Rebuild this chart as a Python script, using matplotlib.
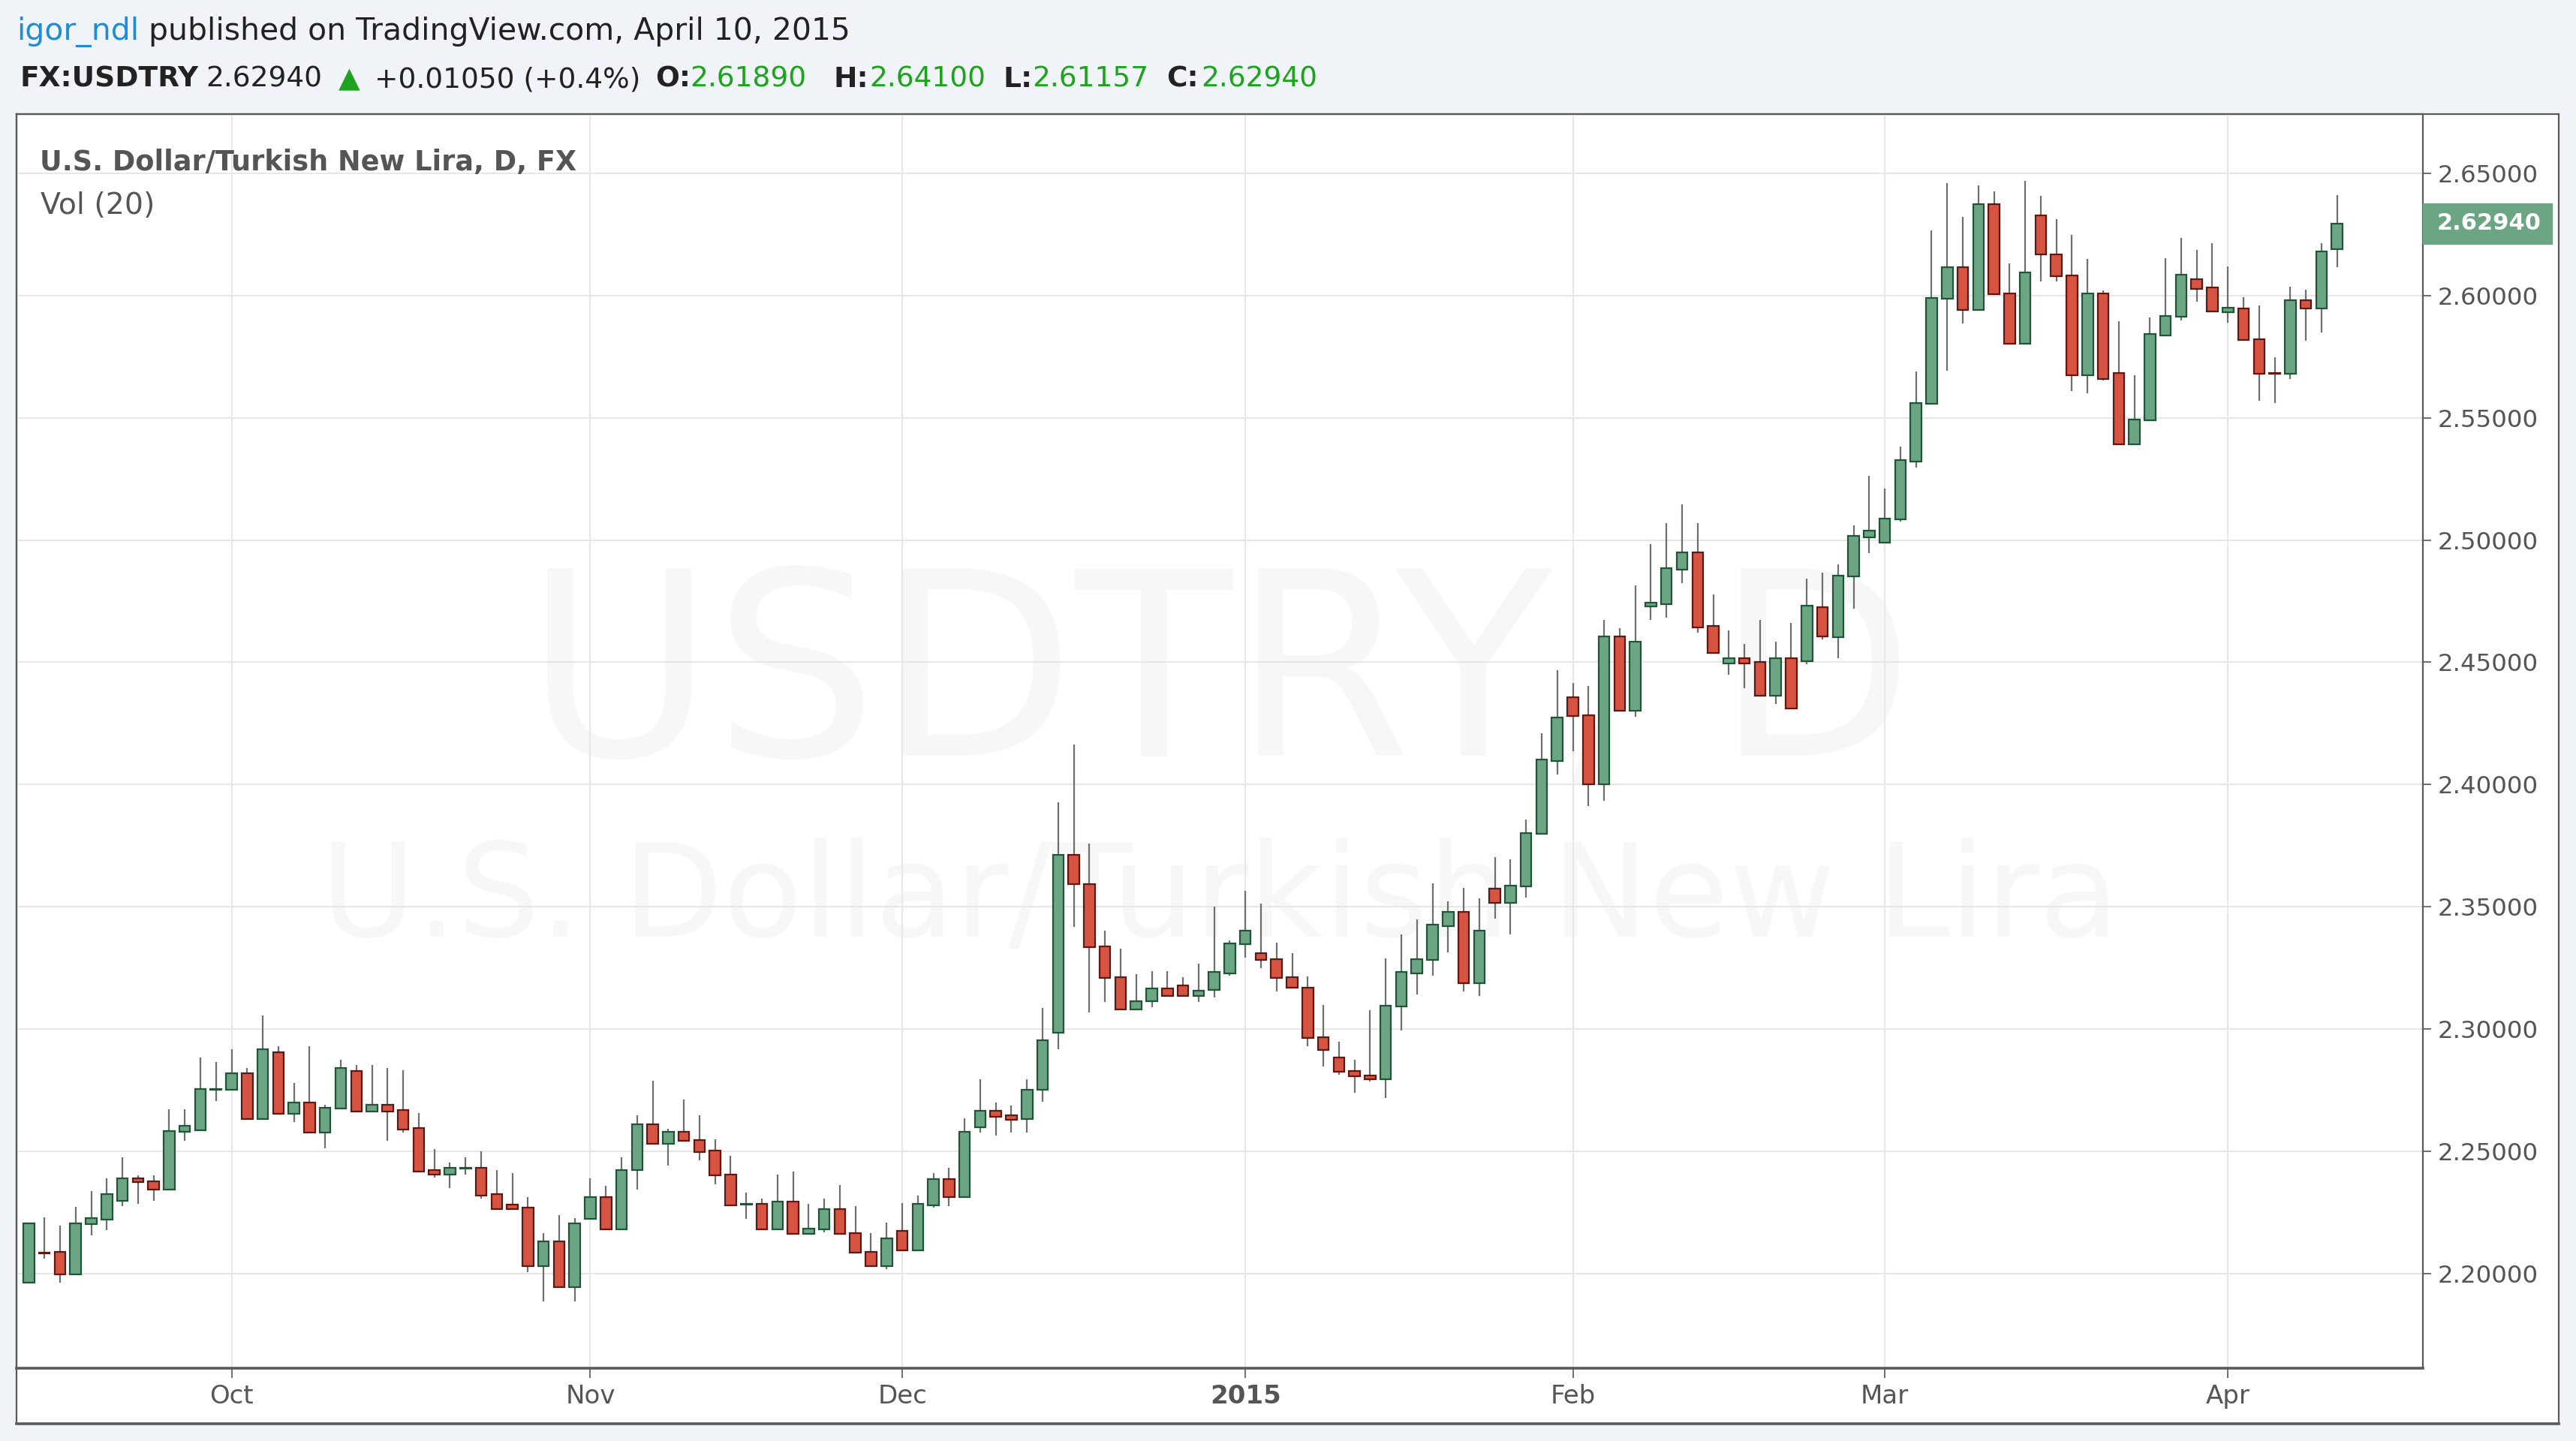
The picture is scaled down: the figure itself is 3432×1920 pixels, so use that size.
import matplotlib
matplotlib.use('Agg')
import matplotlib.pyplot as plt
from matplotlib.patches import Rectangle
import numpy as np

plt.rcParams['font.family'] = ['DejaVu Sans']

# ---------------- data (USD/TRY daily, 12 Sep 2014 - 10 Apr 2015) ----------------
opens = [2.1964, 2.2087, 2.2089, 2.1997, 2.2203, 2.2221, 2.2298, 2.2389, 2.2378, 2.2342,
         2.2579, 2.2587, 2.2751, 2.2751, 2.2819, 2.2633, 2.2905, 2.2653, 2.2701, 2.2578,
         2.2676, 2.2830, 2.2664, 2.2689, 2.2669, 2.2595, 2.2423, 2.2406, 2.2428, 2.2432,
         2.2324, 2.2283, 2.2270, 2.2029, 2.2132, 2.1943, 2.2223, 2.2314, 2.2180, 2.2422,
         2.2611, 2.2531, 2.2580, 2.2547, 2.2502, 2.2405, 2.2281, 2.2284, 2.2182, 2.2295,
         2.2161, 2.2182, 2.2264, 2.2165, 2.2089, 2.2031, 2.2175, 2.2096, 2.2280, 2.2387,
         2.2313, 2.2599, 2.2666, 2.2647, 2.2632, 2.2751, 2.2985, 2.3712, 2.3593, 2.3337,
         2.3211, 2.3080, 2.3114, 2.3166, 2.3178, 2.3136, 2.3159, 2.3229, 2.3348, 2.3309,
         2.3287, 2.3213, 2.3170, 2.2968, 2.2883, 2.2829, 2.2809, 2.2796, 2.3091, 2.3229,
         2.3282, 2.3421, 2.3480, 2.3188, 2.3573, 2.3517, 2.3583, 2.3797, 2.4097, 2.4358,
         2.4284, 2.4000, 2.4606, 2.4301, 2.4729, 2.4739, 2.4879, 2.4948, 2.4648, 2.4495,
         2.4518, 2.4500, 2.4364, 2.4518, 2.4503, 2.4726, 2.4603, 2.4852, 2.5011, 2.4990,
         2.5085, 2.5322, 2.5558, 2.5986, 2.6116, 2.5941, 2.6373, 2.6007, 2.5804, 2.6329,
         2.6168, 2.6082, 2.5675, 2.6007, 2.5682, 2.5392, 2.5489, 2.5837, 2.5912, 2.6066,
         2.6033, 2.5932, 2.5947, 2.5820, 2.5683, 2.5680, 2.5980, 2.5946, 2.61890]
highs = [2.2206, 2.2229, 2.2197, 2.2273, 2.2337, 2.2391, 2.2476, 2.2401, 2.2401, 2.2671,
         2.2671, 2.2885, 2.2864, 2.2918, 2.2842, 2.3057, 2.2929, 2.2779, 2.2929, 2.2691,
         2.2874, 2.2854, 2.2854, 2.2842, 2.2831, 2.2658, 2.2509, 2.2455, 2.2476, 2.2499,
         2.2424, 2.2411, 2.2314, 2.2164, 2.2240, 2.2228, 2.2391, 2.2358, 2.2476, 2.2646,
         2.2790, 2.2591, 2.2711, 2.2646, 2.2549, 2.2482, 2.2330, 2.2307, 2.2406, 2.2417,
         2.2286, 2.2307, 2.2362, 2.2276, 2.2167, 2.2210, 2.2289, 2.2320, 2.2412, 2.2432,
         2.2635, 2.2795, 2.2699, 2.2688, 2.2795, 2.3085, 2.3926, 2.4163, 2.3757, 2.3404,
         2.3329, 2.3223, 2.3236, 2.3236, 2.3211, 2.3266, 2.3500, 2.3363, 2.3566, 2.3512,
         2.3353, 2.3310, 2.3215, 2.3099, 2.2949, 2.2875, 2.3078, 2.3290, 2.3386, 2.3449,
         2.3597, 2.3522, 2.3576, 2.3534, 2.3703, 2.3693, 2.3856, 2.4211, 2.4469, 2.4415,
         2.4404, 2.4672, 2.4640, 2.4813, 2.4984, 2.5069, 2.5145, 2.5069, 2.4779, 2.4629,
         2.4575, 2.4672, 2.4585, 2.4661, 2.4843, 2.4867, 2.4900, 2.5059, 2.5264, 2.5210,
         2.5381, 2.5689, 2.6267, 2.6459, 2.6322, 2.6449, 2.6427, 2.6130, 2.6470, 2.6407,
         2.6311, 2.6247, 2.6151, 2.6021, 2.5896, 2.5675, 2.5909, 2.6152, 2.6237, 2.6185,
         2.6215, 2.6120, 2.5993, 2.5959, 2.5748, 2.6036, 2.6025, 2.6215, 2.64100]
lows = [2.1964, 2.2060, 2.1964, 2.1997, 2.2156, 2.2178, 2.2275, 2.2286, 2.2296, 2.2342,
        2.2543, 2.2587, 2.2705, 2.2751, 2.2633, 2.2633, 2.2653, 2.2619, 2.2578, 2.2511,
        2.2676, 2.2664, 2.2664, 2.2543, 2.2576, 2.2417, 2.2394, 2.2350, 2.2404, 2.2306,
        2.2265, 2.2265, 2.2005, 2.1887, 2.1943, 2.1887, 2.2223, 2.2180, 2.2180, 2.2344,
        2.2531, 2.2443, 2.2542, 2.2464, 2.2365, 2.2280, 2.2224, 2.2182, 2.2182, 2.2161,
        2.2161, 2.2170, 2.2161, 2.2086, 2.2031, 2.2018, 2.2096, 2.2096, 2.2269, 2.2276,
        2.2313, 2.2576, 2.2565, 2.2576, 2.2576, 2.2703, 2.2917, 2.3418, 2.3067, 2.3110,
        2.3080, 2.3080, 2.3089, 2.3136, 2.3136, 2.3110, 2.3129, 2.3218, 2.3292, 2.3249,
        2.3154, 2.3168, 2.2931, 2.2847, 2.2814, 2.2740, 2.2784, 2.2717, 2.2994, 2.3142,
        2.3218, 2.3312, 2.3154, 2.3134, 2.3451, 2.3388, 2.3538, 2.3797, 2.4040, 2.4137,
        2.3911, 2.3934, 2.4301, 2.4278, 2.4672, 2.4683, 2.4825, 2.4621, 2.4538, 2.4449,
        2.4395, 2.4364, 2.4330, 2.4312, 2.4492, 2.4593, 2.4518, 2.4719, 2.4945, 2.4990,
        2.5075, 2.5297, 2.5558, 2.5692, 2.5886, 2.5941, 2.6004, 2.5804, 2.5804, 2.6058,
        2.6058, 2.5610, 2.5599, 2.5653, 2.5392, 2.5392, 2.5489, 2.5837, 2.5898, 2.5975,
        2.5934, 2.5888, 2.5817, 2.5571, 2.5560, 2.5657, 2.5814, 2.5848, 2.61157]
closes = [2.2206, 2.2084, 2.1997, 2.2206, 2.2228, 2.2324, 2.2389, 2.2373, 2.2342, 2.2583,
          2.2605, 2.2755, 2.2755, 2.2819, 2.2633, 2.2916, 2.2653, 2.2701, 2.2578, 2.2679,
          2.2841, 2.2664, 2.2689, 2.2664, 2.2588, 2.2417, 2.2404, 2.2432, 2.2432, 2.2319,
          2.2265, 2.2265, 2.2029, 2.2132, 2.1943, 2.2206, 2.2314, 2.2180, 2.2422, 2.2611,
          2.2531, 2.2580, 2.2542, 2.2498, 2.2401, 2.2280, 2.2285, 2.2182, 2.2295, 2.2161,
          2.2185, 2.2264, 2.2161, 2.2086, 2.2031, 2.2144, 2.2096, 2.2284, 2.2387, 2.2313,
          2.2580, 2.2665, 2.2642, 2.2629, 2.2751, 2.2954, 2.3712, 2.3592, 2.3334, 2.3208,
          2.3080, 2.3114, 2.3166, 2.3136, 2.3136, 2.3156, 2.3233, 2.3351, 2.3403, 2.3284,
          2.3208, 2.3168, 2.2964, 2.2913, 2.2826, 2.2806, 2.2794, 2.3097, 2.3234, 2.3287,
          2.3426, 2.3480, 2.3188, 2.3403, 2.3517, 2.3586, 2.3801, 2.4101, 2.4273, 2.4279,
          2.4000, 2.4606, 2.4301, 2.4583, 2.4745, 2.4885, 2.4948, 2.4643, 2.4538, 2.4518,
          2.4495, 2.4364, 2.4518, 2.4312, 2.4733, 2.4607, 2.4853, 2.5016, 2.5037, 2.5089,
          2.5326, 2.5559, 2.5989, 2.6116, 2.5941, 2.6373, 2.6004, 2.5804, 2.6093, 2.6167,
          2.6079, 2.5675, 2.6007, 2.5660, 2.5392, 2.5492, 2.5842, 2.5916, 2.6086, 2.6028,
          2.5934, 2.5949, 2.5817, 2.5680, 2.5680, 2.5980, 2.5946, 2.6181, 2.62940]

month_pos = [13, 36, 56, 78, 99, 119, 141]          # bar index of first session of month
month_labels = ['Oct', 'Nov', 'Dec', '2015', 'Feb', 'Mar', 'Apr']
price_ticks = [2.20, 2.25, 2.30, 2.35, 2.40, 2.45, 2.50, 2.55, 2.60, 2.65]
last_change = 0.01050
last_change_pct = 0.4
symbol = 'FX:USDTRY'
author = 'igor_ndl'
published = ' published on TradingView.com, April 10, 2015'
chart_title = 'U.S. Dollar/Turkish New Lira, D, FX'
vol_label = 'Vol (20)'
wm_line1 = 'USDTRY, D'
wm_line2 = 'U.S. Dollar/Turkish New Lira'

# ---------------- figure ----------------
W, H, DPI = 3432, 1920, 100
fig = plt.figure(figsize=(W / DPI, H / DPI), dpi=DPI, facecolor='#f0f3f7')
renderer = fig.canvas.get_renderer()


def fx(px):
    return px / W


def fy(py):
    return 1 - py / H


FRAME = '#5a5a5a'
TXT = '#555555'
UP_F, UP_E = '#6ba583', '#225437'
DN_F, DN_E = '#d75442', '#5b1a13'
WICK = '#6f6f71'
GREEN_TXT = '#1fa31f'

# outer white panel
panel = fig.add_axes([fx(22), fy(1897), fx(3409) - fx(22), fy(152) - fy(1897)])
panel.set_facecolor('white')
panel.set_xticks([])
panel.set_yticks([])
for s in panel.spines.values():
    s.set_color(FRAME)
    s.set_linewidth(1.6)
panel.spines['bottom'].set_linewidth(2.6)
panel.set_zorder(0)

# main price axes
ax = fig.add_axes([fx(22), fy(1823), fx(3228) - fx(22), fy(152) - fy(1823)])
ax.set_zorder(1)
ax.set_facecolor('none')

o = np.array(opens)
h = np.array(highs)
l = np.array(lows)
c = np.array(closes)
x = np.arange(len(o))
up = c >= o

ax.vlines(x, l, h, color=WICK, lw=1.6, zorder=2)
ax.bar(x[up], np.maximum((c - o)[up], 1e-5), bottom=o[up], width=0.7,
       color=UP_F, edgecolor=UP_E, linewidth=1.6, zorder=3)
ax.bar(x[~up], np.maximum((o - c)[~up], 1e-5), bottom=c[~up], width=0.7,
       color=DN_F, edgecolor=DN_E, linewidth=1.6, zorder=3)

ax.set_xlim(-0.79, 153.5)
ax.set_ylim(2.1613, 2.6742)

ax.yaxis.tick_right()
ax.set_yticks(price_ticks)
ax.set_yticklabels([f'{v:.5f}' for v in price_ticks])
ax.tick_params(axis='y', length=8, width=1.2, color=TXT, labelsize=23.3,
               labelcolor=TXT, pad=6)
ax.set_xticks(month_pos)
ax.set_xticklabels(month_labels)
ax.tick_params(axis='x', length=9, width=1.2, color=TXT, labelsize=24.5,
               labelcolor=TXT, pad=6)
for lbl in ax.get_xticklabels():
    if lbl.get_text() == '2015':
        lbl.set_fontweight('bold')
ax.grid(True, color='#e7e7e7', lw=1.5)
ax.set_axisbelow(True)
for name, s in ax.spines.items():
    s.set_color(FRAME)
    s.set_linewidth(1.6)
ax.spines['bottom'].set_linewidth(2.6)


def fit(t, target):
    w = t.get_window_extent(renderer).width
    t.set_fontsize(t.get_fontsize() * target / w)
    return t


# watermark
wm1 = ax.text(fx(1625), fy(1007), wm_line1, transform=fig.transFigure, ha='center',
              va='baseline', color='#f7f7f7', fontsize=100, zorder=0.2)
fit(wm1, 1850)
wm2 = ax.text(fx(1625), fy(1248), wm_line2, transform=fig.transFigure, ha='center',
              va='baseline', color='#f7f7f7', fontsize=50, zorder=0.2)
fit(wm2, 2397)

# in-chart titles
t1 = fig.text(fx(53), fy(227), chart_title, color=TXT, fontweight='semibold',
              fontsize=20, va='baseline', ha='left')
fit(t1, 715)
t2 = fig.text(fx(54), fy(285), vol_label, color=TXT, fontsize=20,
              va='baseline', ha='left')
fit(t2, 152)

# last price label on the price scale
ypix = ax.transData.transform((0, c[-1]))[1]
fig.patches.append(Rectangle((fx(3228), (ypix - 27) / H), (3400 - 3228) / W, 54 / H,
                             transform=fig.transFigure, color=UP_F, zorder=5))
fig.text(fx(3247), ypix / H, f'{c[-1]:.5f}', color='white', fontsize=22,
         fontweight='bold', ha='left', va='center', zorder=6)

# header line 1
h1a = fig.text(fx(22), fy(53), author, color='#1f8dd0', fontsize=20,
               va='baseline', ha='left')
h1b = fig.text(fx(22), fy(53), published, color='#222222', fontsize=20,
               va='baseline', ha='left')
wa = h1a.get_window_extent(renderer).width
wb = h1b.get_window_extent(renderer).width
s1 = 20 * 1109 / (wa + wb)
h1a.set_fontsize(s1)
h1b.set_fontsize(s1)
wa = h1a.get_window_extent(renderer).width
h1b.set_x(fx(22 + wa))

# header line 2
chg_txt = f'{last_change:+.5f} (+{last_change_pct}%)'
probe = fig.text(0, 0, chg_txt, fontsize=20)
s2 = 20 * 355 / probe.get_window_extent(renderer).width
probe.remove()
BASE2 = 116
segs = [(symbol, 26, 'bold', '#222222'),
        (f'{c[-1]:.5f}', 274, 'normal', '#222222'),
        ('\u25B2', 451, 'normal', GREEN_TXT),
        (chg_txt, 499, 'normal', '#222222'),
        ('O:', 873, 'bold', '#222222'), (f'{o[-1]:.5f}', 919, 'normal', GREEN_TXT),
        ('H:', 1110, 'bold', '#222222'), (f'{h[-1]:.5f}', 1158, 'normal', GREEN_TXT),
        ('L:', 1337, 'bold', '#222222'), (f'{l[-1]:.5f}', 1375, 'normal', GREEN_TXT),
        ('C:', 1554, 'bold', '#222222'), (f'{c[-1]:.5f}', 1600, 'normal', GREEN_TXT)]
for txt, xp, wt, col in segs:
    fig.text(fx(xp), fy(BASE2), txt, fontsize=s2, fontweight=wt, color=col,
             va='baseline', ha='left')

fig.savefig('out.png', dpi=DPI, facecolor=fig.get_facecolor())
